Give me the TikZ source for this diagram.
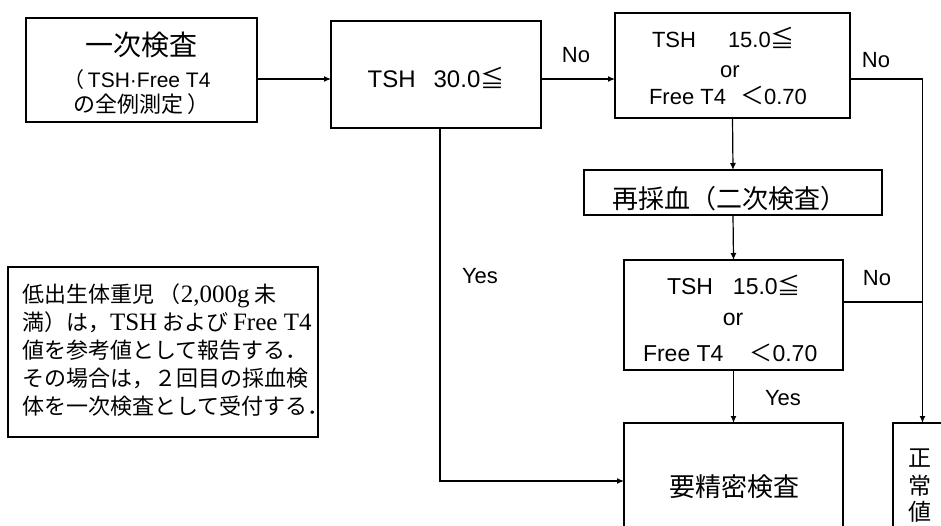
\documentclass[tikz,border=0pt]{standalone}
\usepackage{fontspec}
\setmainfont{Liberation Sans}
\newfontfamily\cjk{Noto Sans CJK JP}
\newfontfamily\ser{Liberation Serif}
\usetikzlibrary{arrows.meta}
\tikzset{
  box/.style={draw=black, line width=1.8pt, inner sep=0pt, outer sep=0pt},
  conn/.style={draw=black, line width=1.2pt},
  arr/.style={conn, -{Latex[length=7pt,width=6pt]}},
  txt/.style={inner sep=0pt, outer sep=0pt, anchor=base},
  txtw/.style={inner sep=0pt, outer sep=0pt, anchor=base west},
  lbl/.style={txt, font=\fontsize{22}{26}\selectfont},
  notetxt/.style={txtw, font=\cjk\fontsize{22}{26}\selectfont},
}
\newcommand{\lat}[1]{{\ser\fontsize{25}{28}\selectfont #1}}
\begin{document}
\begin{tikzpicture}[x=1pt,y=-1pt]
\clip (0,0) rectangle (941,525);
\fill[white] (0,0) rectangle (941,525);

% boxes
\node[box, line width=2.2pt, minimum width=231pt, minimum height=104pt] (b1) at (141.5,70) {};
\node[box, minimum width=210pt, minimum height=107pt] (b2) at (436,74.5) {};
\node[box, minimum width=235pt, minimum height=105pt] (b3) at (732.5,65.5) {};
\node[box, minimum width=298pt, minimum height=45pt] (bre) at (733,192.5) {};
\node[box, minimum width=219pt, minimum height=110pt] (b4) at (733.5,315) {};
\node[box, minimum width=219pt, minimum height=154pt] (byo) at (733.5,500) {};
\node[box, minimum width=59pt, minimum height=154pt] (bsei) at (922.5,500) {};
\node[box, line width=2.2pt, minimum width=310pt, minimum height=170pt] (note) at (163,352) {};

% box texts
\node[txt, font=\cjk\fontsize{28}{30}\selectfont] (t1a) at (141.5,55) {一次検査};
\node[txt, font=\fontsize{21}{24}\selectfont] (t1b) at (137,87) {{\cjk （}\,TSH·Free T4};
\node[txt, font=\cjk\fontsize{22}{24}\selectfont] (t1c) at (141.5,112) {の全例測定 ）};

\node[txt, font=\fontsize{24}{28}\selectfont] (t2) at (436,87) {TSH\hspace{18pt}30.0{\cjk ≦}};

\node[txtw, font=\fontsize{22}{26}\selectfont] (t3a) at (652,47) {TSH\hspace{32pt}15.0{\cjk\fontsize{24}{26}\selectfont ≦}};
\node[txt, font=\fontsize{22}{26}\selectfont] (t3b) at (730,77) {or};
\node[txtw, font=\fontsize{22}{26}\selectfont] (t3c) at (649,104) {Free T4\hspace{14pt}{\cjk\fontsize{24}{26}\selectfont ＜}0.70};

\node[txt, font=\cjk\fontsize{26}{28}\selectfont] (tre) at (729,208) {再採血（二次検査）};

\node[txtw, font=\fontsize{23}{26}\selectfont] (t4a) at (667,294) {TSH\hspace{20pt}15.0{\cjk ≦}};
\node[txt, font=\fontsize{23}{26}\selectfont] (t4b) at (733,325) {or};
\node[txtw, font=\fontsize{23}{26}\selectfont] (t4c) at (643,361) {Free T4\hspace{26pt}{\cjk ＜}0.70};

\node[txt, font=\cjk\fontsize{26}{28}\selectfont] (tyo) at (734,496) {要精密検査};

\node[txt, font=\cjk\fontsize{23}{26}\selectfont] (ts1) at (920,466) {正};
\node[txt, font=\cjk\fontsize{23}{26}\selectfont] (ts2) at (920,494) {常};
\node[txt, font=\cjk\fontsize{23}{26}\selectfont] (ts3) at (920,520) {値};

% note text
\node[notetxt] (n1) at (22,302) {低出生体重児 （\lat{2,000g} 未};
\node[notetxt] (n2) at (22,330) {満）は，\lat{TSH} および \lat{Free T4}};
\node[notetxt] (n3) at (22,358) {値を参考値として報告する．};
\node[notetxt] (n4) at (22,386) {その場合は，２回目の採血検};
\node[notetxt] (n5) at (22,414) {体を一次検査として受付する．};

% labels
\node[lbl] (no1) at (576,62) {No};
\node[lbl] (no2) at (876,67) {No};
\node[lbl] (no3) at (877,285) {No};
\node[lbl] (yes1) at (480,283) {Yes};
\node[lbl] (yes2) at (783,405) {Yes};

% helper coordinates
\coordinate (y79) at (0,79);
\coordinate (y302) at (0,302);
\coordinate (y481) at (0,481);
\coordinate (x440) at (440,0);

% connectors
\draw[arr] (b1.east |- y79) -- (b2.west |- y79);
\draw[arr] (b2.east |- y79) -- (b3.west |- y79);
\draw[arr] (x440 |- b2.south) |- (byo.west |- y481);
\draw[arr] (b3.east |- y79) -| (bsei.north);
\draw[arr] (b3.south) -- (bre.north);
\draw[arr] (bre.south) -- (b4.north);
\draw[conn] (b4.east |- y302) -- (bsei.north |- y302);
\draw[arr] (b4.south) -- (byo.north);
\end{tikzpicture}
\end{document}
